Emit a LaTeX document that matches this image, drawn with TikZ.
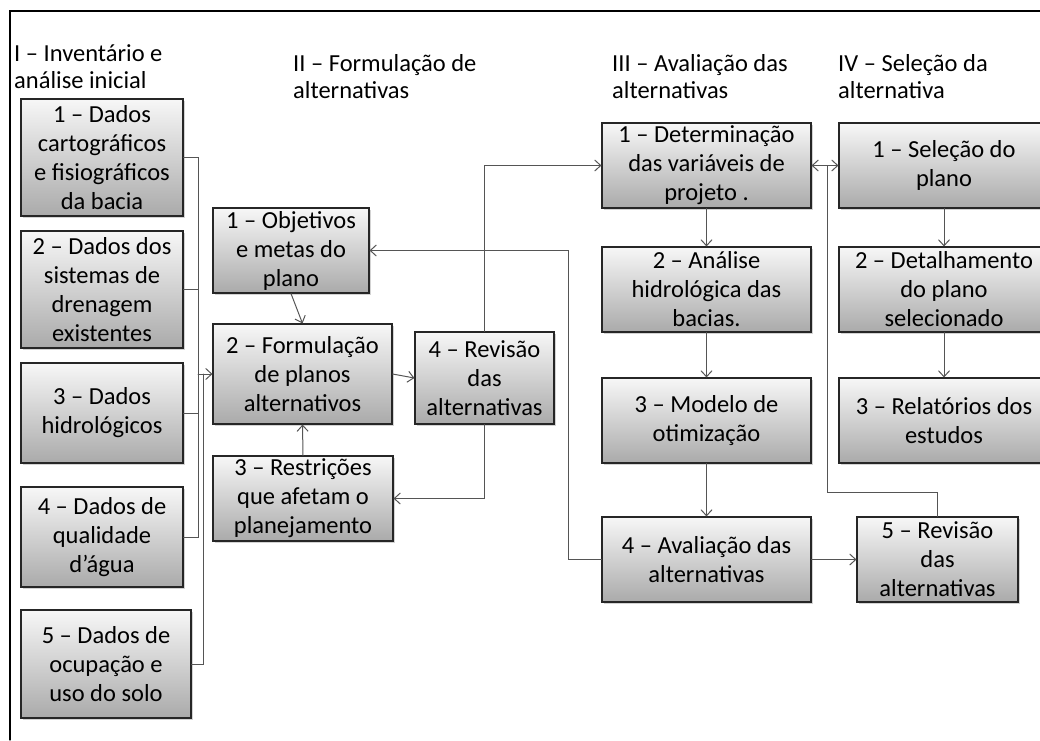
\documentclass[tikz,border=0pt]{standalone}
\usepackage{fontspec}
\setmainfont{Carlito}
\usetikzlibrary{arrows.meta,shadows}
\definecolor{boxtop}{RGB}{247,247,247}
\definecolor{boxbottom}{RGB}{170,170,170}
\definecolor{linkgray}{RGB}{85,85,85}

\begin{document}
\begin{tikzpicture}[x=1pt,y=-1pt,>={Straight Barb[length=6pt,width=11pt]},
  line cap=round,
  every node/.style={font=\fontsize{24.5}{29}\selectfont},
  etapa/.style={draw=black!85,line width=1.1pt,
   top color=boxtop,bottom color=boxbottom,
   drop shadow={shadow xshift=2pt,shadow yshift=-2pt,opacity=.35},
   align=center,inner sep=0pt},
  fase/.style={anchor=base west,align=left,inner sep=0pt,
   font=\fontsize{24.5}{26.5}\selectfont},
  liga/.style={linkgray,line width=1pt}]
 \useasboundingbox (0,0) rectangle (1040,740);
 \clip (0,0) rectangle (1040,740);
 \draw[line width=1.2pt] (1040,11) -- (10,11) -- (10,740);

 % titulos das fases (base = ultima linha)
 \node[fase] (f1) at (14,88) {I – Inventário e\\análise inicial};
 \node[fase] (f2) at (293,98) {II – Formulação de\\alternativas};
 \node[fase] (f3) at (612,98) {III – Avaliação das\\alternativas};
 \node[fase] (f4) at (838,98) {IV – Seleção da\\alternativa};

 % I
 \node[etapa,minimum width=162,minimum height=117] (inv1) at (102,157.5)
  {1 – Dados\\cartográficos\\e fisiográficos\\da bacia};
 \node[etapa,minimum width=162,minimum height=117] (inv2) at (102,289.5)
  {2 – Dados dos\\sistemas de\\drenagem\\existentes};
 \node[etapa,minimum width=162,minimum height=100] (inv3) at (102,413)
  {3 – Dados\\hidrológicos};
 \node[etapa,minimum width=162,minimum height=100] (inv4) at (102,537)
  {4 – Dados de\\qualidade\\d’água};
 \node[etapa,minimum width=170,minimum height=108] (inv5) at (106,664)
  {5 – Dados de\\ocupação e\\uso do solo};

 % II
 \node[etapa,minimum width=156,minimum height=85] (form1) at (291,250.5)
  {1 – Objetivos\\e metas do\\plano};
 \node[etapa,minimum width=179,minimum height=100] (form2) at (302.5,374)
  {2 – Formulação\\de planos\\alternativos};
 \node[etapa,minimum width=180,minimum height=85] (form3) at (303,498.5)
  {3 – Restrições\\que afetam o\\planejamento};
 \node[etapa,minimum width=139,minimum height=92] (form4) at (484.5,378)
  {4 – Revisão\\das\\alternativas};

 % III
 \node[etapa,minimum width=209,minimum height=85] (aval1) at (706.5,165.5)
  {1 – Determinação\\das variáveis de\\projeto .};
 \node[etapa,minimum width=209,minimum height=85] (aval2) at (706.5,289.5)
  {2 – Análise\\hidrológica das\\bacias.};
 \node[etapa,minimum width=209,minimum height=85] (aval3) at (706.5,420.5)
  {3 – Modelo de\\otimização};
 \node[etapa,minimum width=209,minimum height=85] (aval4) at (706.5,559.5)
  {4 – Avaliação das\\alternativas};

 % IV
 \node[etapa,minimum width=210,minimum height=85] (sel1) at (944,165.5)
  {1 – Seleção do\\plano};
 \node[etapa,minimum width=210,minimum height=85] (sel2) at (944,289.5)
  {2 – Detalhamento\\do plano\\selecionado};
 \node[etapa,minimum width=210,minimum height=85] (sel3) at (944,420.5)
  {3 – Relatórios dos\\estudos};
 \node[etapa,minimum width=161,minimum height=85] (rev5) at (937.5,559.5)
  {5 – Revisão\\das\\alternativas};

 % ligacoes
 \coordinate (bus) at (198,374);
 \coordinate (bus5) at (203,374);
 \foreach \n in {inv1,inv2,inv3,inv4}
  \draw[liga] (\n.east) -| (bus);
 \draw[liga] (inv5.east) -| (bus5);
 \draw[liga,->] (bus) -- (form2.west);
 \draw[liga,->] (form1.south) -- (form2.north);
 \draw[liga,->] (form3.north) -- (form2.south);
 \draw[liga,->] (form2.east) -- (form4.west);
 \draw[liga,->] (form4.south) |- (form3.east);
 \draw[liga,->] (form4.north) |- (aval1.west);
 \draw[liga,->] (aval4.west) -- ++(-33,0) |- (form1.east);
 \foreach \a/\b in {aval1/aval2,aval2/aval3,aval3/aval4,sel1/sel2,sel2/sel3}
  \draw[liga,->] (\a.south) -- (\b.north);
 \draw[liga,<->] (aval1.east) -- (sel1.west);
 \draw[liga,->] (aval4.east) -- (rev5.west);
 \coordinate (retorno) at (827,165.5);
 \draw[liga] (rev5.north) -- ++(0,-24) -| (retorno);
\end{tikzpicture}
\end{document}
